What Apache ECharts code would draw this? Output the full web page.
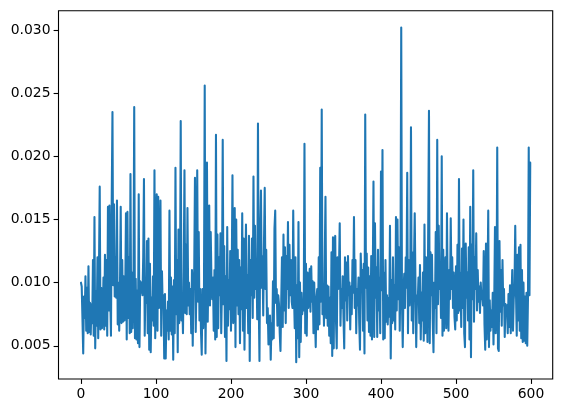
<!DOCTYPE html>
<html>
<head>
<meta charset="utf-8">
<script src="https://cdn.jsdelivr.net/npm/echarts@6/dist/echarts.min.js"></script>
<style>html,body{margin:0;padding:0;background:#fff}#c{width:565px;height:413px}</style>
</head>
<body>
<div id="c"></div>
<script>
const xTicks = [0, 100, 200, 300, 400, 500, 600];
const yTicks = [0.005, 0.010, 0.015, 0.020, 0.025, 0.030];
const values = [
0.0100,0.0097,0.0071,0.0044,0.0089,0.0072,0.0105,0.0062,0.0096,0.0060,
0.0113,0.0061,0.0084,0.0059,0.0083,0.0068,0.0118,0.0058,0.0152,0.0048,
0.0093,0.0066,0.0120,0.0056,0.0110,0.0176,0.0063,0.0096,0.0064,0.0074,
0.0104,0.0063,0.0122,0.0066,0.0118,0.0058,0.0160,0.0078,0.0161,0.0090,
0.0058,0.0165,0.0235,0.0098,0.0162,0.0089,0.0120,0.0088,0.0165,0.0067,
0.0100,0.0062,0.0095,0.0160,0.0068,0.0118,0.0069,0.0105,0.0070,0.0090,
0.0155,0.0055,0.0156,0.0072,0.0120,0.0060,0.0186,0.0061,0.0108,0.0064,
0.0098,0.0239,0.0056,0.0103,0.0055,0.0094,0.0052,0.0170,0.0049,0.0101,
0.0092,0.0100,0.0090,0.0120,0.0182,0.0058,0.0098,0.0084,0.0133,0.0060,
0.0135,0.0047,0.0115,0.0045,0.0088,0.0070,0.0105,0.0066,0.0189,0.0056,
0.0120,0.0170,0.0062,0.0168,0.0080,0.0115,0.0165,0.0058,0.0109,0.0080,
0.0090,0.0040,0.0091,0.0040,0.0078,0.0062,0.0085,0.0055,0.0157,0.0062,
0.0104,0.0059,0.0097,0.0039,0.0102,0.0060,0.0191,0.0075,0.0118,0.0045,
0.0142,0.0068,0.0088,0.0228,0.0070,0.0089,0.0060,0.0110,0.0189,0.0076,
0.0130,0.0075,0.0159,0.0082,0.0100,0.0075,0.0095,0.0060,0.0110,0.0050,
0.0098,0.0110,0.0183,0.0061,0.0100,0.0189,0.0085,0.0140,0.0070,0.0095,
0.0062,0.0043,0.0095,0.0064,0.0094,0.0256,0.0044,0.0099,0.0195,0.0069,
0.0113,0.0161,0.0082,0.0140,0.0100,0.0087,0.0104,0.0062,0.0110,0.0055,
0.0217,0.0057,0.0138,0.0064,0.0120,0.0090,0.0139,0.0060,0.0098,0.0213,
0.0083,0.0129,0.0057,0.0105,0.0038,0.0144,0.0066,0.0102,0.0079,0.0125,
0.0062,0.0105,0.0185,0.0068,0.0130,0.0159,0.0049,0.0150,0.0082,0.0126,
0.0075,0.0118,0.0052,0.0112,0.0079,0.0155,0.0062,0.0135,0.0047,0.0102,
0.0146,0.0080,0.0106,0.0060,0.0137,0.0038,0.0118,0.0090,0.0135,0.0072,
0.0184,0.0088,0.0145,0.0095,0.0117,0.0071,0.0226,0.0086,0.0038,0.0140,
0.0173,0.0096,0.0121,0.0074,0.0130,0.0175,0.0095,0.0126,0.0068,0.0080,
0.0051,0.0066,0.0074,0.0039,0.0068,0.0055,0.0101,0.0056,0.0143,0.0157,
0.0084,0.0095,0.0066,0.0090,0.0083,0.0060,0.0046,0.0085,0.0120,0.0065,
0.0138,0.0078,0.0128,0.0068,0.0121,0.0095,0.0148,0.0080,0.0130,0.0090,
0.0118,0.0085,0.0080,0.0157,0.0092,0.0064,0.0120,0.0037,0.0098,0.0056,
0.0148,0.0041,0.0100,0.0053,0.0092,0.0075,0.0085,0.0078,0.0210,0.0060,
0.0115,0.0058,0.0108,0.0080,0.0095,0.0111,0.0077,0.0113,0.0085,0.0101,
0.0060,0.0100,0.0072,0.0049,0.0088,0.0095,0.0063,0.0120,0.0067,0.0191,
0.0085,0.0237,0.0075,0.0098,0.0066,0.0117,0.0168,0.0072,0.0098,0.0066,
0.0097,0.0058,0.0088,0.0052,0.0124,0.0042,0.0136,0.0048,0.0130,0.0137,
0.0070,0.0048,0.0120,0.0095,0.0110,0.0147,0.0066,0.0095,0.0080,0.0105,
0.0073,0.0048,0.0120,0.0086,0.0116,0.0070,0.0121,0.0090,0.0100,0.0063,
0.0097,0.0075,0.0118,0.0092,0.0152,0.0080,0.0118,0.0060,0.0095,0.0082,
0.0104,0.0068,0.0047,0.0123,0.0097,0.0110,0.0062,0.0115,0.0044,0.0233,
0.0096,0.0123,0.0070,0.0112,0.0061,0.0105,0.0058,0.0121,0.0055,0.0100,
0.0180,0.0057,0.0147,0.0088,0.0112,0.0057,0.0126,0.0078,0.0104,0.0060,
0.0188,0.0094,0.0205,0.0055,0.0108,0.0056,0.0118,0.0069,0.0090,0.0067,
0.0088,0.0073,0.0145,0.0040,0.0102,0.0068,0.0120,0.0070,0.0098,0.0063,
0.0152,0.0078,0.0150,0.0087,0.0128,0.0062,0.0110,0.0302,0.0084,0.0049,
0.0093,0.0107,0.0080,0.0120,0.0096,0.0187,0.0060,0.0118,0.0082,0.0098,
0.0223,0.0070,0.0124,0.0060,0.0117,0.0155,0.0096,0.0049,0.0090,0.0084,
0.0104,0.0068,0.0114,0.0055,0.0092,0.0070,0.0108,0.0054,0.0146,0.0060,
0.0120,0.0085,0.0053,0.0146,0.0236,0.0052,0.0124,0.0090,0.0122,0.0070,
0.0045,0.0100,0.0080,0.0140,0.0060,0.0213,0.0083,0.0145,0.0095,0.0110,
0.0072,0.0200,0.0058,0.0126,0.0062,0.0098,0.0120,0.0064,0.0155,0.0085,
0.0062,0.0110,0.0087,0.0151,0.0095,0.0120,0.0080,0.0108,0.0073,0.0063,
0.0113,0.0070,0.0130,0.0076,0.0182,0.0078,0.0108,0.0065,0.0127,0.0080,
0.0150,0.0060,0.0049,0.0131,0.0088,0.0108,0.0070,0.0128,0.0055,0.0160,
0.0041,0.0130,0.0087,0.0189,0.0069,0.0120,0.0095,0.0139,0.0078,0.0110,
0.0085,0.0097,0.0076,0.0100,0.0087,0.0090,0.0082,0.0125,0.0067,0.0047,
0.0131,0.0055,0.0094,0.0157,0.0049,0.0086,0.0062,0.0078,0.0065,0.0092,
0.0051,0.0085,0.0144,0.0060,0.0080,0.0207,0.0048,0.0046,0.0133,0.0077,
0.0110,0.0066,0.0118,0.0082,0.0095,0.0057,0.0083,0.0075,0.0082,0.0060,
0.0091,0.0065,0.0098,0.0060,0.0086,0.0110,0.0062,0.0087,0.0097,0.0145,
0.0092,0.0058,0.0122,0.0070,0.0128,0.0062,0.0130,0.0056,0.0110,0.0053,
0.0100,0.0054,0.0089,0.0052,0.0092,0.0050,0.0088,0.0207,0.0090,0.0195
];
const points = values.map((v, i) => [i, v]);
const chart = echarts.init(document.getElementById('c'), null, {renderer: 'canvas'});
const font = 'DejaVu Sans';
chart.setOption({
  animation: false,
  backgroundColor: '#ffffff',
  grid: {left: 58.5, right: 12.3, top: 10.7, bottom: 34, show: true, borderColor: '#000', borderWidth: 1.1, backgroundColor: 'transparent'},
  xAxis: {
    type: 'value', min: -29.95, max: 628.95,
    splitLine: {show: false},
    axisLine: {show: false, onZero: false},
    axisTick: {show: true, inside: false, length: 4.9, lineStyle: {color: '#000', width: 1.1}, customValues: xTicks},
    axisLabel: {color: '#000', fontFamily: font, fontSize: 13.9, margin: 8, customValues: xTicks,
      formatter: v => String(v)}
  },
  yAxis: {
    type: 'value', min: 0.002375, max: 0.031525,
    splitLine: {show: false},
    axisLine: {show: false, onZero: false},
    axisTick: {show: true, inside: false, length: 4.9, lineStyle: {color: '#000', width: 1.1}, customValues: yTicks},
    axisLabel: {color: '#000', fontFamily: font, fontSize: 13.9, margin: 8, customValues: yTicks,
      formatter: v => v.toFixed(3)}
  },
  series: [{
    type: 'line', data: points, showSymbol: false, symbol: 'none',
    lineStyle: {color: '#1f77b4', width: 2.08, join: 'round', cap: 'round'},
    clip: true
  }]
});
</script>
</body>
</html>
